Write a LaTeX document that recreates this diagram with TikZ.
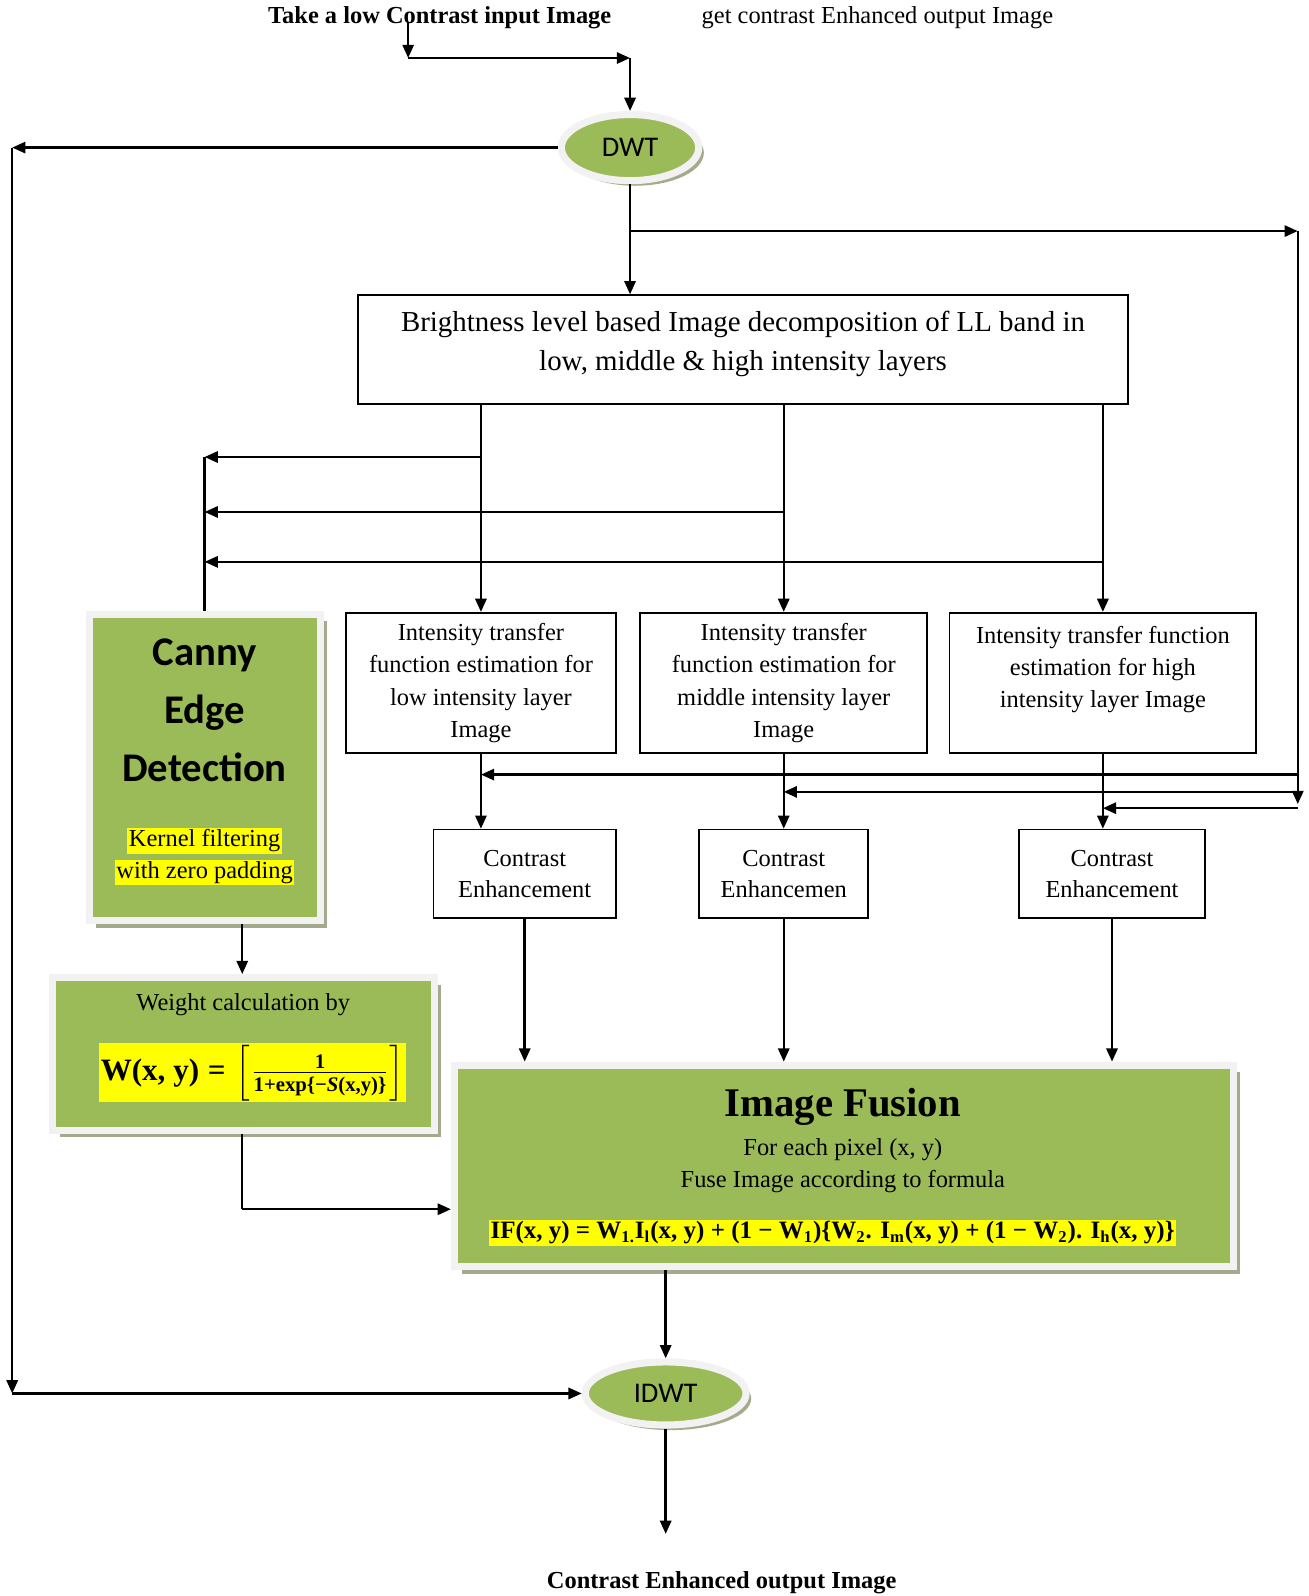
\documentclass[tikz,border=0pt]{standalone}
\usepackage{amsmath}
\usepackage{graphicx}
\usepackage{fontspec}
\setmainfont{Liberation Serif}
\newfontfamily\calibri{Carlito}
\usepackage{tikz}
\usetikzlibrary{shapes, arrows.meta, positioning, shadows}
\usetikzlibrary{calc}
\definecolor{leaf}{RGB}{155,187,89}
\definecolor{rim}{RGB}{242,242,242}
\definecolor{shade}{RGB}{163,171,140}
\definecolor{hilite}{RGB}{255,255,0}

\begin{document}
\begin{tikzpicture}
  [
    x=0.5pt, y=-0.5pt,
    font=\fontsize{12}{15.5}\selectfont,
    >={Triangle[length=6.5pt, width=5.5pt]},
    Plain/.style={rectangle, draw=black, line width=0.8pt, align=center, inner sep=0pt},
    Leaf/.style={rectangle, draw=rim, fill=leaf, line width=3.5pt, inner sep=0pt,
      drop shadow={shadow xshift=3.5pt, shadow yshift=-3.5pt, fill=shade, opacity=1}},
    Oval/.style={ellipse, draw=rim, fill=leaf, line width=3.5pt, inner sep=0pt,
      font=\calibri\fontsize{14}{16}\selectfont,
      drop shadow={shadow xshift=2.5pt, shadow yshift=-2.5pt, fill=shade, opacity=1}},
    Hilite/.style={fill=hilite, inner sep=0.8pt},
    Link/.style={->, draw, line width=1.2pt}
  ]
  \useasboundingbox (0,0) rectangle (1286,1568);
  % Nodes
  \node[font=\bfseries\fontsize{12}{14}\selectfont] (intext) at (432,17) {Take a low Contrast input Image};
  \node (outnote) at (862,17) {get contrast Enhanced output Image};
  \node[Oval, minimum width=67.5pt, minimum height=32.5pt] (dwt) at (619,145) {DWT};
  \node[Plain, minimum width=378pt, minimum height=53.5pt] (bright) at (730,343.5) {};
  \node[align=center, font=\fontsize{14.2}{19}\selectfont] (brighttext) at (730,338)
    {Brightness level based Image decomposition of LL band in\\low, middle \& high intensity layers};
  \node[Plain, font=\fontsize{12}{15.8}\selectfont, minimum width=132.5pt, minimum height=69pt] (itf1) at (472.5,671)
    {Intensity transfer\\function estimation for\\low intensity layer\\Image};
  \node[Plain, font=\fontsize{12}{15.8}\selectfont, minimum width=141pt, minimum height=69pt] (itf2) at (770,671)
    {Intensity transfer\\function estimation for\\middle intensity layer\\Image};
  \node[Plain, font=\fontsize{12}{15.8}\selectfont, minimum width=150.5pt, minimum height=69pt] (itf3) at (1083.5,671)
    {Intensity transfer function\\estimation for high\\intensity layer Image\\\mbox{}};
  \node[Plain, minimum width=89.5pt, minimum height=43.5pt] (ce1) at (515.5,858.5) {Contrast\\Enhancement};
  \node[Plain, minimum width=83pt, minimum height=43.5pt] (ce2) at (770,858.5) {Contrast\\Enhancemen};
  \node[Plain, minimum width=91.5pt, minimum height=43.5pt] (ce3) at (1092.5,858.5) {Contrast\\Enhancement};
  % Canny and weight boxes
  \node[Leaf, minimum width=113.5pt, minimum height=150.5pt] (canny) at (201,754) {};
  \node[align=center, font=\calibri\bfseries\fontsize{20}{28.5}\selectfont] (cannytitle) at (201,698) {Canny\\Edge\\Detection};
  \node[Hilite] (kern1) at (201,826) {Kernel filtering};
  \node[Hilite] (kern2) at (201,857) {with zero padding};
  \node[Leaf, minimum width=187.5pt, minimum height=75pt] (weight) at (239,1035.5) {};
  \node[inner sep=1pt] (wlabel) at (239,987) {Weight calculation by};
  \node[Hilite] (wformula) at (248,1054)
    {\resizebox{149pt}{!}{$\textbf{W(x, y)}\;\textbf{=}\,\left[\frac{\textbf{1}}{\textbf{1+exp\{−\textit{S}(x,y)\}}}\right]$}};
  % Fusion box
  \node[Leaf, minimum width=382.5pt, minimum height=99pt] (fusion) at (829,1145.5) {};
  \node[font=\bfseries\fontsize{20}{24}\selectfont] (ftitle) at (828,1087) {Image Fusion};
  \node (fline1) at (828,1129) {For each pixel (x, y)};
  \node (fline2) at (828,1161) {Fuse Image according to formula};
  \node[Hilite] (fformula) at (818,1211)
    {\resizebox{336pt}{!}{\bfseries IF(x, y) = W\textsubscript{1.}I\textsubscript{l}(x, y) + (1 − W\textsubscript{1})\{W\textsubscript{2}. I\textsubscript{m}(x, y) + (1 − W\textsubscript{2}). I\textsubscript{h}(x, y)\}}};
  \node[Oval, minimum width=79pt, minimum height=31pt] (idwt) at (654,1369) {IDWT};
  \node[font=\bfseries\fontsize{12}{14}\selectfont] (outtext) at (709,1555) {Contrast Enhanced output Image};
  % Corners
  \coordinate (in1) at (401,22);
  \coordinate (bend1) at (401,57);
  \coordinate (bend2) at (619,57);
  \coordinate (leftTop) at (12,145);
  \coordinate (leftBot) at (12,1369);
  \coordinate (split) at (619,227);
  \coordinate (rightTop) at (1275,227);
  \coordinate (rightBot) at (1275,790);
  \coordinate (r1) at (1275,761);
  \coordinate (r2) at (1275,778);
  \coordinate (r3) at (1275,794);
  \coordinate (l1) at (201,449);
  \coordinate (l2) at (201,503);
  \coordinate (l3) at (201,552);
  \coordinate (drop) at (238,1188);
  \coordinate (outend) at (654,1507);
  % Lines
  \path [Link] (in1) -- (bend1);
  \path [Link] (bend1) -- (bend2);
  \path [Link] (bend2) -- (dwt.north);
  \path [Link] (dwt.west) -- (leftTop);
  \path [Link] (leftTop) -- (leftBot);
  \path [Link] (leftBot) -- (idwt.west);
  \path [Link] (dwt.south) -- (dwt.south |- bright.north);
  \path [Link] (split) -- (rightTop);
  \path [Link] (rightTop) -- (rightBot);
  \path [Link] (r1) -- (r1 -| itf1.south);
  \path [Link] (r2) -- (r2 -| itf2.south);
  \path [Link] (r3) -- (r3 -| itf3.south);
  \path [Link] (itf1.north |- bright.south) -- (itf1.north);
  \path [Link] (itf2.north |- bright.south) -- (itf2.north);
  \path [Link] (itf3.north |- bright.south) -- (itf3.north);
  \path [Link] (itf1.north |- l1) -- (l1);
  \path [Link] (itf2.north |- l2) -- (l2);
  \path [Link] (itf3.north |- l3) -- (l3);
  \path [draw, line width=1.2pt] (l1) -- (canny.north);
  \path [Link] (itf1.south) -- (itf1.south |- ce1.north);
  \path [Link] (itf2.south) -- (itf2.south |- ce2.north);
  \path [Link] (itf3.south) -- (itf3.south |- ce3.north);
  \path [Link] (ce1.south) -- (ce1.south |- fusion.north);
  \path [Link] (ce2.south) -- (ce2.south |- fusion.north);
  \path [Link] (ce3.south) -- (ce3.south |- fusion.north);
  \path [Link] (canny.south -| drop) -- (weight.north -| drop);
  \path [draw, line width=1.2pt] (weight.south -| drop) -- (drop);
  \path [Link] (drop) -- (drop -| fusion.west);
  \path [Link] (fusion.south -| idwt.north) -- (idwt.north);
  \path [Link] (idwt.south) -- (outend);
\end{tikzpicture}
\end{document}
